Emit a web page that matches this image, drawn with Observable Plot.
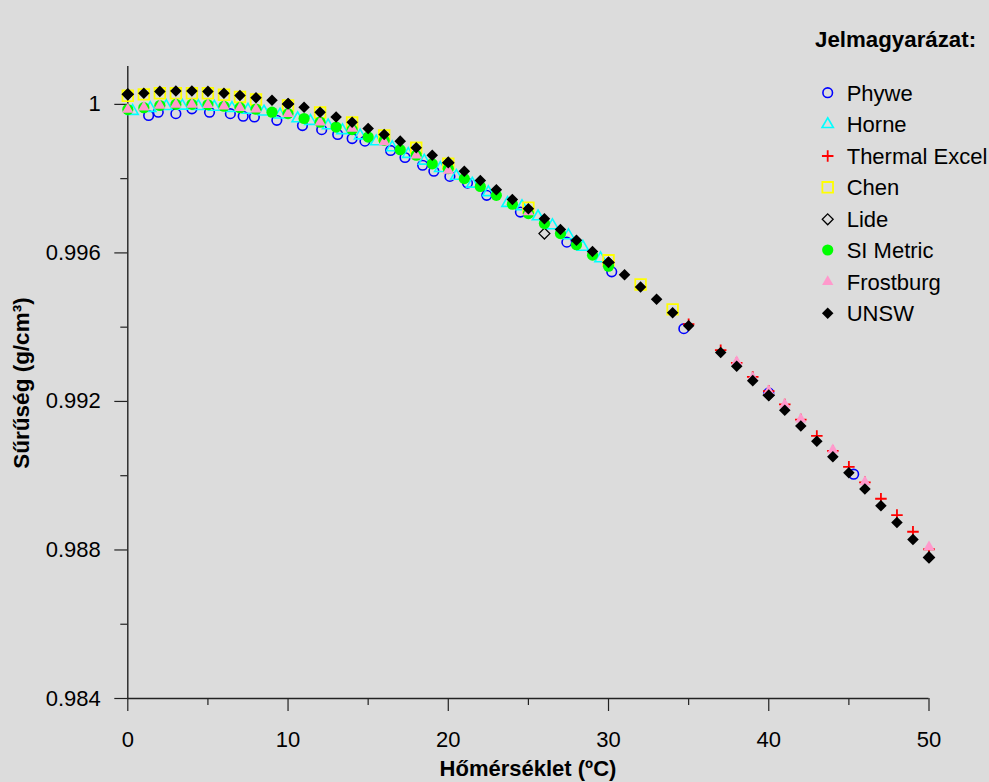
<!DOCTYPE html>
<html><head><meta charset="utf-8">
<script src="https://cdn.jsdelivr.net/npm/d3@7"></script>
<script src="https://cdn.jsdelivr.net/npm/@observablehq/plot@0.6"></script>
<style>
html,body{margin:0;padding:0;background:#dcdcdc;}
#wrap{position:relative;width:989px;height:782px;background:#dcdcdc;font-family:"Liberation Sans",Arial,sans-serif;overflow:hidden;}
#wrap svg{position:absolute;left:0;top:0;}
</style></head><body><div id="wrap"></div>
<script>
// ---- data ----
const phyweT = [1.3,1.9,3.0,4.0,5.1,6.4,7.2,7.9,9.3,10.9,12.1,13.1,14.0,14.8,16.4,17.3,18.4,19.1,20.1,21.2,22.4,24.5,27.4,30.2,34.7,40.0,45.3];
const phyweD = [0.99970,0.99979,0.99975,0.99988,0.99979,0.99975,0.99968,0.99966,0.99957,0.99943,0.99932,0.99919,0.99908,0.99901,0.99876,0.99857,0.99836,0.99820,0.99806,0.99788,0.99755,0.99710,0.99629,0.99549,0.99396,0.99223,0.99004];

const horneT = [0.3,1.4,2.4,3.4,4.4,5.4,6.5,7.5,8.5,9.5,10.6,11.4,12.5,13.4,14.5,15.5,16.5,17.5,18.5,19.5,20.5,21.5,22.5,23.7,24.6,25.6,26.5,27.5,28.4,29.5];
const horneD = [0.99982,0.99990,0.99995,0.99996,0.99995,0.99993,0.99990,0.99985,0.99980,0.99972,0.99962,0.99955,0.99943,0.99930,0.99916,0.99900,0.99884,0.99866,0.99848,0.99828,0.99807,0.99786,0.99763,0.99734,0.99725,0.99698,0.99674,0.99647,0.99616,0.99585];

const thermalT = [35,37,38,39,40,41,42,43,44,45,46,47,48,49,50];
const thermalD = [0.99408,0.99338,0.99304,0.99266,0.99228,0.99192,0.99151,0.99107,0.99067,0.99024,0.98982,0.98938,0.98894,0.98849,0.98802];

const chenT = [0,1,2,3,4,5,6,7,8,10,12,14,16,18,20,25,30,32,34];
const chenD = [1.00023,1.00027,1.00030,1.00030,1.00030,1.00030,1.00026,1.00020,1.00013,0.99997,0.99978,0.99951,0.99916,0.99883,0.99840,0.99722,0.99580,0.99515,0.99448];

const lideT = [0,10,20,26,30,40,50];
const lideD = [1.00027,1.00001,0.99843,0.99652,0.99574,0.99217,0.98780];

const siT = [0,1,2,3,4,5,6,7,8,9,10,11,12,13,14,15,16,17,18,19,20,21,22,23,24,25,26,27,28,29,30];
const siD = [0.99986,0.99991,0.99997,1.00000,1.00000,0.99999,0.99995,0.99991,0.99987,0.99979,0.99975,0.99962,0.99952,0.99939,0.99932,0.99912,0.99903,0.99878,0.99863,0.99840,0.99827,0.99800,0.99779,0.99755,0.99731,0.99706,0.99679,0.99652,0.99622,0.99594,0.99564];

const frostT = [0,1,2,3,4,5,6,7,8,10,12,14,16,18,20,25,38,39,40,41,42,44,46,50];
const frostD = [0.99986,0.99992,0.99997,1.00000,1.00000,0.99999,0.99995,0.99991,0.99987,0.99975,0.99952,0.99935,0.99899,0.99863,0.99822,0.99710,0.99307,0.99264,0.99228,0.99192,0.99152,0.99069,0.98983,0.98808];

const unswT = [0,1,2,3,4,5,6,7,8,9,10,11,12,13,14,15,16,17,18,19,20,21,22,23,24,25,26,27,28,29,30,31,32,33,34,35,37,38,39,40,41,42,43,44,45,46,47,48,49,50];
const unswD = [1.00027,1.00030,1.00035,1.00036,1.00036,1.00035,1.00030,1.00024,1.00018,1.00011,1.00001,0.99992,0.99979,0.99966,0.99952,0.99935,0.99919,0.99901,0.99883,0.99863,0.99843,0.99820,0.99795,0.99770,0.99744,0.99719,0.99692,0.99663,0.99634,0.99604,0.99574,0.99541,0.99508,0.99475,0.99439,0.99404,0.99332,0.99295,0.99256,0.99217,0.99176,0.99134,0.99093,0.99051,0.99008,0.98964,0.98919,0.98874,0.98828,0.98780];

const seriesNames = ["Phywe","Horne","Thermal Excel","Chen","Lide","SI Metric","Frostburg","UNSW"];
const xTicks = [0,10,20,30,40,50];
const xMinor = [5,15,25,35,45];
const yTicks = [0.984,0.988,0.992,0.996,1];
const yMinor = [0.986,0.990,0.994,0.998];
const xTitle = "Hőmérséklet (ºC)";
const yTitle = "Sűrűség (g/cm³)";
const legendTitle = "Jelmagyarázat:";

// ---- styles ----
const styles = [
  {symbol:"circle",   fill:"none",    stroke:"#0000ff", r:4.8, sw:1.6},
  {symbol:"triangle", fill:"none",    stroke:"#00ffff", r:4.2, sw:1.6},
  {symbol:"plus",     fill:"none",    stroke:"#ff0000", r:3.8, sw:1.8},
  {symbol:"square",   fill:"none",    stroke:"#ffff00", r:6.0, sw:1.8},
  {symbol:"diamond2", fill:"none",    stroke:"#000000", r:4.9, sw:1.3},
  {symbol:"circle",   fill:"#00ff00", stroke:"none",    r:5.6, sw:0},
  {symbol:"triangle", fill:"#ff99cc", stroke:"none",    r:4.2, sw:0},
  {symbol:"diamond2", fill:"#000000", stroke:"none",    r:5.2, sw:0}
];
const tables = [[phyweT,phyweD],[horneT,horneD],[thermalT,thermalD],[chenT,chenD],[lideT,lideD],[siT,siD],[frostT,frostD],[unswT,unswD]]
  .map(([T,D]) => T.map((t,i) => ({t, d: D[i]})));

const font = '"Liberation Sans", Arial, sans-serif';
const fmt = d => d === 1 ? "1" : d.toFixed(3);

const dotMarks = tables.map((data,i) => {
  const s = styles[i];
  return Plot.dot(data, {x:"t", y:"d", symbol: () => s.symbol, r: s.r, fill: s.fill, stroke: s.stroke, strokeWidth: s.sw});
});

const chart = Plot.plot({
  width: 989, height: 782,
  marginLeft: 127.3, marginRight: 60.5, marginTop: 66, marginBottom: 84,
  x: {domain: [0, 50]},
  y: {domain: [0.984, 1.00102]},
  symbol: {type: "identity"},
  style: {background: "transparent", fontFamily: font, fontSize: "22px", color: "#000", overflow: "visible"},
  marks: [
    Plot.axisY(yTicks, {tickSize: 13, tickPadding: 14, tickFormat: fmt, fontSize: 22, label: null, stroke: "#222", strokeWidth: 1.2}),
    Plot.axisY(yMinor, {tickSize: 7, tickFormat: () => "", label: null, stroke: "#222", strokeWidth: 1.2}),
    Plot.axisX(xTicks, {tickSize: 13, tickPadding: 20, fontSize: 22, label: null, stroke: "#222", strokeWidth: 1.2}),
    Plot.axisX(xMinor, {tickSize: 7, tickFormat: () => "", label: null, stroke: "#222", strokeWidth: 1.2}),
    Plot.ruleX([0], {stroke: "#222", strokeWidth: 1.4}),
    Plot.ruleY([0.984], {stroke: "#222", strokeWidth: 1.4}),
    ...dotMarks
  ]
});

const svg = d3.select(chart);
svg.append("text")
  .attr("transform", "translate(28.7,383) rotate(-90)")
  .attr("text-anchor", "middle")
  .attr("font-family", font).attr("font-weight", "bold").attr("font-size", 22.5)
  .text(yTitle);
svg.append("text")
  .attr("x", 528).attr("y", 776)
  .attr("text-anchor", "middle")
  .attr("font-family", font).attr("font-weight", "bold").attr("font-size", 22)
  .text(xTitle);

document.getElementById("wrap").appendChild(chart);

// ---- legend overlay ----
const lg = d3.select("#wrap").append("svg")
  .attr("width", 989).attr("height", 782)
  .style("pointer-events", "none");
lg.append("text").attr("x", 815).attr("y", 46.5)
  .attr("font-family", font).attr("font-weight", "bold").attr("font-size", 22.3)
  .text(legendTitle);
const symMap = {circle: d3.symbolCircle, triangle: d3.symbolTriangle, plus: d3.symbolPlus, square: d3.symbolSquare, diamond2: d3.symbolDiamond2};
const rowY = [92.7,124.3,156,187.3,219.3,250,281.7,313.3];
seriesNames.forEach((name, i) => {
  const s = styles[i];
  lg.append("path")
    .attr("transform", `translate(827.7,${rowY[i]})`)
    .attr("d", d3.symbol(symMap[s.symbol], Math.PI * s.r * s.r)())
    .attr("fill", s.fill).attr("stroke", s.stroke).attr("stroke-width", s.sw);
  lg.append("text").attr("x", 846.7).attr("y", rowY[i] + 7.8)
    .attr("font-family", font).attr("font-size", 22)
    .text(name);
});
</script>
</body></html>
